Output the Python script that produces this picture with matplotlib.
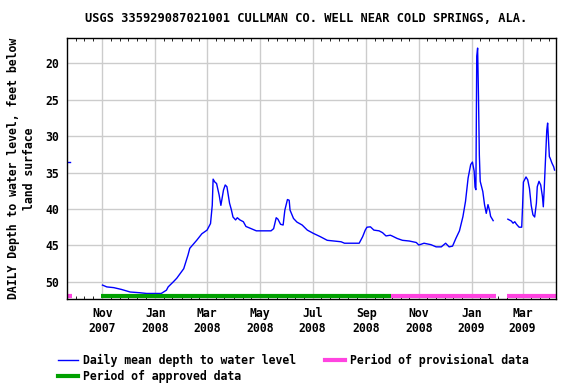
import pandas as pd
import matplotlib.pyplot as plt
import matplotlib.dates as mdates
from matplotlib.lines import Line2D

# Data (depth to water level, feet below land surface)
early_dates = ['2007-09-22', '2007-09-24']
early_depth = [33.5, 33.5]

dates_1 = ['2007-11-01', '2007-11-06', '2007-11-14', '2007-11-23', '2007-12-03', '2007-12-14',
           '2007-12-22', '2008-01-03', '2008-01-08', '2008-01-14', '2008-01-16', '2008-01-22',
           '2008-01-26', '2008-02-03', '2008-02-08', '2008-02-10', '2008-02-18', '2008-02-24',
           '2008-03-01', '2008-03-05', '2008-03-07', '2008-03-08', '2008-03-10', '2008-03-12',
           '2008-03-15', '2008-03-17', '2008-03-20', '2008-03-22', '2008-03-24', '2008-03-27',
           '2008-03-29', '2008-03-31', '2008-04-03', '2008-04-05', '2008-04-08', '2008-04-12',
           '2008-04-15', '2008-04-21', '2008-04-27', '2008-05-03', '2008-05-14', '2008-05-17',
           '2008-05-20', '2008-05-22', '2008-05-25', '2008-05-28', '2008-05-30', '2008-06-02',
           '2008-06-04', '2008-06-05', '2008-06-09', '2008-06-13', '2008-06-19', '2008-06-25',
           '2008-07-02', '2008-07-10', '2008-07-18', '2008-07-26', '2008-08-03', '2008-08-07',
           '2008-08-24', '2008-08-28', '2008-08-31', '2008-09-02', '2008-09-06', '2008-09-10',
           '2008-09-16', '2008-09-20', '2008-09-24', '2008-09-29', '2008-10-01', '2008-10-07',
           '2008-10-13', '2008-10-21', '2008-10-29', '2008-11-01', '2008-11-07', '2008-11-15',
           '2008-11-21', '2008-11-27', '2008-12-02', '2008-12-06', '2008-12-10', '2008-12-14',
           '2008-12-18', '2008-12-22', '2008-12-25', '2008-12-28', '2008-12-31', '2009-01-02',
           '2009-01-04', '2009-01-05', '2009-01-06', '2009-01-07', '2009-01-08', '2009-01-09',
           '2009-01-10', '2009-01-11', '2009-01-14', '2009-01-16', '2009-01-18', '2009-01-20',
           '2009-01-22', '2009-01-23', '2009-01-26']
depth_1 = [50.45, 50.7, 50.8, 51.05, 51.4, 51.5,
           51.6, 51.6, 51.6, 51.15, 50.7, 50.0,
           49.5, 48.2, 46.3, 45.4, 44.3, 43.4,
           42.9, 42.0, 39.5, 35.9, 36.3, 36.5,
           38.1, 39.5, 37.4, 36.7, 36.95, 39.2,
           40.05, 41.1, 41.5, 41.2, 41.5, 41.75,
           42.4, 42.7, 43.0, 43.0, 43.0, 42.7,
           41.2, 41.4, 42.1, 42.2, 40.15, 38.7,
           38.8, 40.15, 41.3, 41.8, 42.2, 42.9,
           43.35, 43.8, 44.3, 44.4, 44.5, 44.7,
           44.7, 43.8, 42.9, 42.5, 42.45, 42.9,
           43.0, 43.25, 43.7, 43.6, 43.7, 44.05,
           44.3, 44.4, 44.6, 44.95, 44.7, 44.9,
           45.2, 45.2, 44.7, 45.2, 45.1, 44.0,
           43.0, 41.05, 38.95, 35.75, 33.9, 33.55,
           34.8, 37.0, 37.35, 19.0, 17.9, 24.5,
           32.6, 36.2, 37.6, 39.4, 40.6, 39.4,
           40.3, 41.0, 41.6]

dates_2 = ['2009-02-12', '2009-02-16', '2009-02-18', '2009-02-20', '2009-02-22', '2009-02-25',
           '2009-02-28', '2009-03-01', '2009-03-02', '2009-03-05', '2009-03-07', '2009-03-09',
           '2009-03-11', '2009-03-13', '2009-03-15', '2009-03-17', '2009-03-18', '2009-03-20',
           '2009-03-22', '2009-03-24', '2009-03-25', '2009-03-26', '2009-03-27', '2009-03-29',
           '2009-03-30', '2009-03-31', '2009-04-01', '2009-04-02', '2009-04-04', '2009-04-06',
           '2009-04-07']
depth_2 = [41.4, 41.65, 41.95, 41.75, 42.1, 42.5,
           42.5, 39.7, 36.3, 35.6, 36.0, 37.2,
           39.5, 40.8, 41.1, 39.2, 36.95, 36.2,
           36.7, 38.3, 39.7, 37.4, 34.65, 29.2,
           28.2, 30.5, 32.8, 33.05, 33.7, 34.2,
           34.65]

# Data-quality periods (start, end)
approved_periods = [('2007-10-30', '2008-09-30')]
provisional_periods = [('2007-09-21', '2007-09-27'), ('2008-09-30', '2009-01-29'),
                       ('2009-02-11', '2009-04-09')]
period_level = 51.9

blue = '#0000ff'
green = '#00a000'
magenta = '#ff44e0'
font = {'family': 'DejaVu Sans Mono', 'weight': 'bold', 'size': 8.3}

fig = plt.figure(figsize=(5.76, 3.84), dpi=100)
ax = fig.add_axes([0.117, 0.221, 0.848, 0.679])

ax.plot(pd.to_datetime(early_dates), early_depth, color=blue, lw=1)
ax.plot(pd.to_datetime(dates_1), depth_1, color=blue, lw=1)
ax.plot(pd.to_datetime(dates_2), depth_2, color=blue, lw=1)

for start, end in approved_periods:
    ax.plot(pd.to_datetime([start, end]), [period_level, period_level],
            color=green, lw=3, solid_capstyle='butt')
for start, end in provisional_periods:
    ax.plot(pd.to_datetime([start, end]), [period_level, period_level],
            color=magenta, lw=3, solid_capstyle='butt')

ax.set_xlim(pd.Timestamp('2007-09-21 10:00'), pd.Timestamp('2009-04-08 12:00'))
ax.set_ylim(52.38, 16.57)

ax.xaxis.set_major_locator(mdates.MonthLocator(bymonth=[1, 3, 5, 7, 9, 11]))
ax.xaxis.set_major_formatter(mdates.DateFormatter('%b\n%Y'))
ax.xaxis.set_minor_locator(mdates.DayLocator(bymonthday=[1, 11, 21]))
ax.set_yticks([20, 25, 30, 35, 40, 45, 50])

ax.grid(True, which='major', color='#cccccc', lw=1)
ax.set_axisbelow(True)
ax.tick_params(which='major', length=0)
ax.tick_params(axis='x', which='major', pad=6)
ax.tick_params(axis='y', which='major', pad=6)
ax.tick_params(axis='x', which='minor', direction='in', length=2.5, top=True, bottom=True)
for lab in ax.get_xticklabels() + ax.get_yticklabels():
    lab.set_fontfamily(font['family'])
    lab.set_fontweight('bold')
    lab.set_fontsize(font['size'])
    lab.set_linespacing(1.15)
for sp in ax.spines.values():
    sp.set_linewidth(1)

ax.set_ylabel('DAILY Depth to water level, feet below\nland surface', fontdict=font, labelpad=7,
              linespacing=1.3)
fig.text(0.532, 0.953, 'USGS 335929087021001 CULLMAN CO. WELL NEAR COLD SPRINGS, ALA.',
         ha='center', va='center', family='DejaVu Sans Mono', weight='bold', size=8.65)

# Legend
items = [(58, 360, blue, 1, 'Daily mean depth to water level'),
         (325, 360, magenta, 3, 'Period of provisional data'),
         (58, 376, green, 3, 'Period of approved data')]
for x, y, c, w, label in items:
    fig.add_artist(Line2D([x / 576, (x + 20) / 576], [1 - y / 384, 1 - y / 384],
                          transform=fig.transFigure, color=c, lw=w))
    fig.text((x + 25) / 576, 1 - y / 384, label, ha='left', va='center', fontdict=font)

fig.savefig('out.png', dpi=100)
